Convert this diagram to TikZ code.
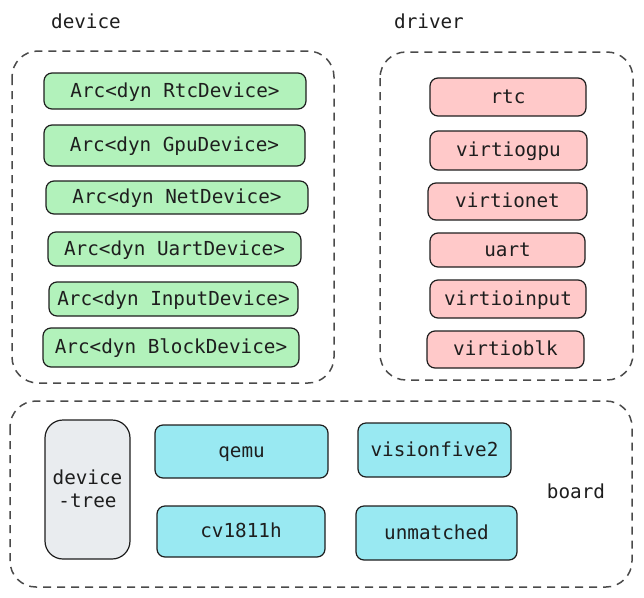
\documentclass[tikz,border=0pt]{standalone}
\usepackage{fontspec}
\setmonofont{DejaVu Sans Mono}
\definecolor{grn}{HTML}{B2F2BB}
\definecolor{rd}{HTML}{FFC9C9}
\definecolor{cy}{HTML}{99E9F2}
\definecolor{gr}{HTML}{E9ECEF}
\definecolor{strk}{HTML}{1E1E1E}
\definecolor{dsh}{HTML}{4A4A4A}
\begin{document}
\begin{tikzpicture}[x=1pt,y=-1pt,
  txt/.style={font=\ttfamily\fontsize{19.3}{23}\selectfont, text=strk, text height=13pt, text depth=1pt},
  box/.style={draw=strk, line width=1.2pt, rounded corners=8pt},
  container/.style={draw=dsh, line width=1.5pt, dash pattern=on 8pt off 6pt, rounded corners=26pt},
]
\useasboundingbox (0,0) rectangle (644,597);
% containers
\draw[container] (12,51) rectangle (334,383);
\draw[container] (380,52) rectangle (633,380);
\draw[container] (10,401) rectangle (632,587);
% labels
\node[txt] (ldev) at (86,22) {device};
\node[txt] (ldrv) at (429,22) {driver};
\node[txt] (lboard) at (576,492) {board};
% boxes
\newcommand{\bx}[7]{\draw[box, fill=#1] (#3,#4) rectangle (#5,#6) node[txt, midway] (#2) {#7};}
\bx{grn}{g1}{44}{73}{306}{109}{Arc<dyn RtcDevice>}
\bx{grn}{g2}{44}{125}{305}{166}{Arc<dyn GpuDevice>}
\bx{grn}{g3}{46}{181}{308}{214}{Arc<dyn NetDevice>}
\bx{grn}{g4}{48}{232}{301}{266}{Arc<dyn UartDevice>}
\bx{grn}{g5}{49}{282}{298}{316}{Arc<dyn InputDevice>}
\bx{grn}{g6}{43}{328}{299}{367}{Arc<dyn BlockDevice>}
\bx{rd}{r1}{430}{78}{586}{116}{rtc}
\bx{rd}{r2}{430}{131}{587}{170}{virtiogpu}
\bx{rd}{r3}{428}{183}{587}{220}{virtionet}
\bx{rd}{r4}{430}{233}{585}{267}{uart}
\bx{rd}{r5}{430}{280}{586}{318}{virtioinput}
\bx{rd}{r6}{427}{331}{584}{368}{virtioblk}
\draw[box, fill=gr, rounded corners=18pt] (45,420) rectangle (130,559);
\node[txt] (dt1) at (87.5,478) {device};
\node[txt] (dt2) at (87.5,501) {-tree};
\bx{cy}{b1}{155}{425}{328}{478}{qemu}
\bx{cy}{b2}{157}{506}{325}{557}{cv1811h}
\bx{cy}{b3}{358}{423}{511}{477}{visionfive2}
\bx{cy}{b4}{356}{506}{517}{560}{unmatched}
\end{tikzpicture}
\end{document}
